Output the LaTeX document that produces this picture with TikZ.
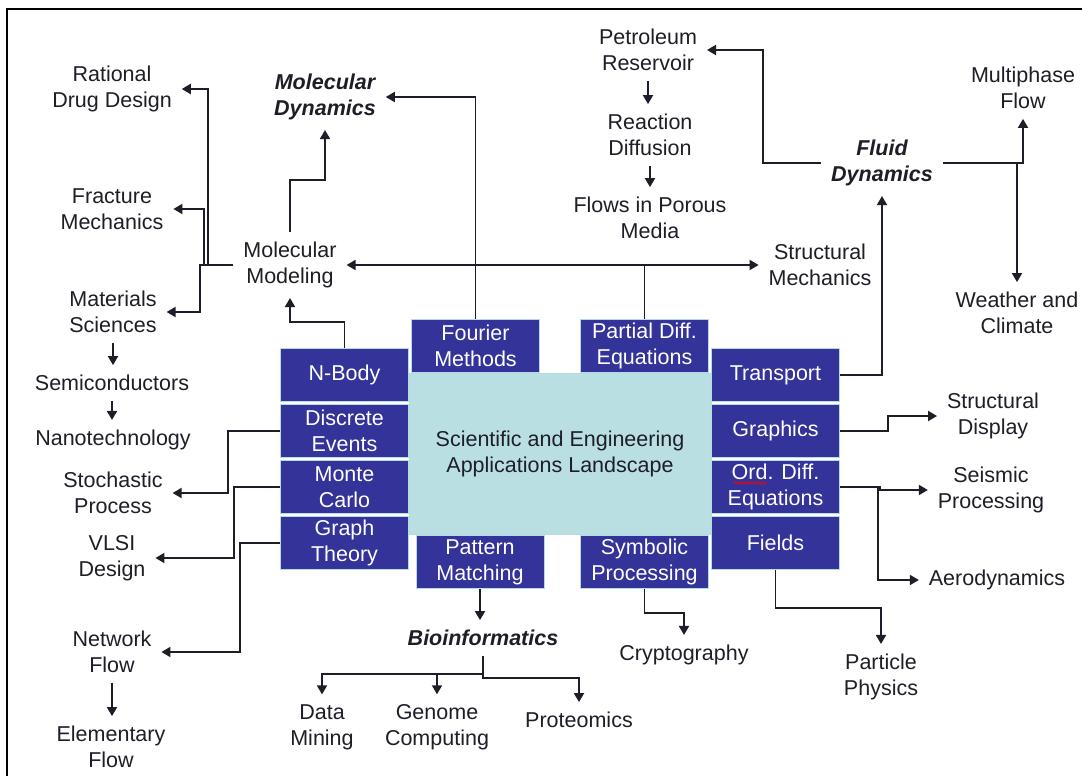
\documentclass[tikz,border=0pt]{standalone}
\usepackage{fontspec}
\setmainfont{Liberation Sans}
\usetikzlibrary{arrows.meta,decorations.pathmorphing}
\definecolor{boxblue}{HTML}{333399}
\definecolor{boxedge}{HTML}{B4DCE2}
\definecolor{core}{HTML}{B9DFE3}
\definecolor{ink}{HTML}{1E1E28}
\begin{document}
\begin{tikzpicture}[x=1pt,y=-1pt,
  lbl/.style={text=ink, align=center, inner sep=1pt, outer sep=9pt,
    font=\fontsize{21.5}{26}\selectfont},
  field/.style={lbl, font=\fontsize{21.5}{26}\selectfont\bfseries\itshape},
  tile/.style={draw=boxedge, fill=boxblue, text=white, line width=1pt,
    minimum width=128pt, minimum height=53pt, inner sep=0pt, align=center,
    font=\fontsize{21.5}{26}\selectfont},
  link/.style={draw=ink, line width=1.8pt},
  arr/.style={link, -{Triangle[length=9pt,width=10pt]}},
  arrr/.style={link, {Triangle[length=9pt,width=10pt]}-{Triangle[length=9pt,width=10pt]}}
]
\useasboundingbox (0,0) rectangle (1082,776);
\fill[white] (0,0) rectangle (1082,776);
% outer frame
\draw[black, line width=1.5pt] (1082,9) -- (7,9) -- (7,776);

% central landscape panel
\node[draw=boxedge, fill=core, line width=1pt, minimum width=302pt, minimum height=161pt,
      inner sep=0pt, align=center, text=ink, font=\fontsize{21.5}{26}\selectfont]
  (core) at (560,453.5) {Scientific and Engineering\\Applications Landscape};

% method tiles around the panel
\node[tile] (nbody)    at (344.5,375) {N-Body};
\node[tile] (disc)     at (344.5,431) {Discrete\\Events};
\node[tile] (monte)    at (344.5,487) {Monte\\Carlo};
\node[tile] (graph)    at (344.5,543) {Graph\\Theory};
\node[tile] (fourier)  at (475.5,345.5) {Fourier\\Methods};
\node[tile] (pdiff)    at (644.5,345.5) {Partial Diff.\\Equations};
\node[tile] (pattern)  at (480,562) {Pattern\\Matching};
\node[tile] (symb)     at (644.5,562) {Symbolic\\Processing};
\node[tile] (transp)   at (775.5,375) {Transport};
\node[tile] (graphics) at (775.5,431) {Graphics};
\node[tile] (ode)      at (775.5,487) {Ord. Diff.\\Equations};
\node[tile] (fields)   at (775.5,543) {Fields};
\draw[red, line width=0.8pt, decorate,
      decoration={zigzag, segment length=4pt, amplitude=1.2pt}] (734,483) -- (767,483);

% application labels
\node[lbl]   (rdd)     at (112,89)  {Rational\\Drug Design};
\node[field] (mdyn)    at (325,97)  {Molecular\\Dynamics};
\node[lbl]   (frac)    at (112,209) {Fracture\\Mechanics};
\node[lbl]   (mmod)    at (290,265) {Molecular\\Modeling};
\node[lbl]   (mat)     at (113,312) {Materials\\Sciences};
\node[lbl]   (semi)    at (112,383) {Semiconductors};
\node[lbl]   (nano)    at (113,440) {Nanotechnology};
\node[lbl]   (stoch)   at (113,493) {Stochastic\\Process};
\node[lbl]   (vlsi)    at (112,558) {VLSI\\Design};
\node[lbl]   (netf)    at (112,652) {Network\\Flow};
\node[lbl]   (elem)    at (111,747) {Elementary\\Flow};
\node[lbl]   (petro)   at (648,50)  {Petroleum\\Reservoir};
\node[lbl]   (react)   at (650,135) {Reaction\\Diffusion};
\node[lbl]   (flows)   at (650,218) {Flows in Porous\\Media};
\node[lbl]   (smech)   at (820,265) {Structural\\Mechanics};
\node[field] (fluid)   at (882,163) {Fluid\\Dynamics};
\node[lbl]   (multi)   at (1023,88) {Multiphase\\Flow};
\node[lbl]   (weather) at (1017,313) {Weather and\\Climate};
\node[lbl]   (sdisp)   at (993,416) {Structural\\Display};
\node[lbl]   (seis)    at (991,490) {Seismic\\Processing};
\node[lbl]   (aero)    at (997,580) {Aerodynamics};
\node[lbl]   (part)    at (881,677) {Particle\\Physics};
\node[lbl]   (crypt)   at (684,655) {Cryptography};
\node[field] (bio)     at (483,638) {Bioinformatics};
\node[lbl]   (dmin)    at (322,727) {Data\\Mining};
\node[lbl]   (genome)  at (437,727) {Genome\\Computing};
\node[lbl]   (prot)    at (579,720) {Proteomics};

% connectors: upper half
\draw[arr] (fourier.north) |- (mdyn.east);
\draw[arrr] (mmod.east) -- (smech.west);
\draw[link] (pdiff.north) -- (pdiff.north |- smech.west);
\draw[arr] (mmod.west) -- (208,265) |- (rdd.east);
\draw[arr] (204,265) |- (frac.east);
\draw[arr] (mmod.west) -- (200,265) |- (mat.east);
\draw[arr] (nbody.north) -- ++(0,-26) -| (mmod.south);
\draw[arr] (mmod.north) -- (mmod.north |- 0,180) -| (mdyn.south);
\draw[arr] (petro.south) -- (petro.south |- react.north);
\draw[arr] (react.south) -- (react.south |- flows.north);
\draw[arr] (fluid.west) -- (763,163) |- (petro.east);
\draw[arr] (fluid.east) -| (multi.south);
\draw[arr] (fluid.east -| weather.north) -- (weather.north);
\draw[arr] (transp.east) -| (fluid.south);

% connectors: left column
\draw[arr] (mat.south) -- (mat.south |- semi.north);
\draw[arr] (semi.south) -- (semi.south |- nano.north);
\draw[arr] (disc.west) -- (228,431) |- (stoch.east);
\draw[arr] (monte.west) -- (234,487) |- (vlsi.east);
\draw[arr] (graph.west) -- (240,543) |- (netf.east);
\draw[arr] (netf.south) -- (netf.south |- elem.north);

% connectors: right column
\draw[arr] (graphics.east) -- (888,431) |- (sdisp.west);
\draw[arr] (ode.east) -- (880,487) |- (seis.west);
\draw[arr] (878,487) |- (aero.west);
\draw[arr] (fields.south) -- ++(0,38) -| (part.north);

% connectors: bottom
\draw[arr] (symb.south) -- ++(0,24) -| (crypt.north);
\draw[arr] (pattern.south) -- (pattern.south |- bio.north);
\draw[arr] (bio.south) -- ++(0,18) -| (dmin.north);
\draw[arr] (bio.south) -- ++(0,18) -| (genome.north);
\draw[arr] (bio.south) -- ++(0,22) -| (prot.north);
\end{tikzpicture}
\end{document}
